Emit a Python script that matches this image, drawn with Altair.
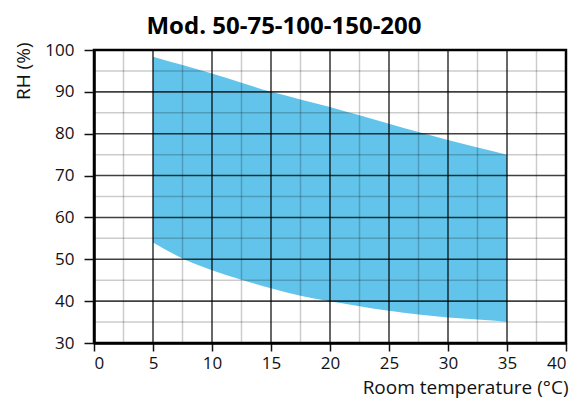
import altair as alt
import pandas as pd

# Data
temps = [5, 7.5, 10, 12.5, 15, 17.5, 20, 22.5, 25, 27.5, 30, 32.5, 35]
rh_upper = [98.4, 96.4, 94.4, 92.2, 90.0, 88.2, 86.4, 84.4, 82.4, 80.4, 78.5, 76.7, 75.0]
rh_lower = [54.0, 50.2, 47.4, 45.1, 43.1, 41.3, 40.0, 38.8, 37.7, 36.8, 36.1, 35.6, 35.1]

x_ticks = [0, 5, 10, 15, 20, 25, 30, 35, 40]
y_ticks = [30, 40, 50, 60, 70, 80, 90, 100]
x_major_grid = [5, 10, 15, 20, 25, 30, 35]
y_major_grid = [40, 50, 60, 70, 80, 90]
x_minor_grid = [2.5, 7.5, 12.5, 17.5, 22.5, 27.5, 32.5, 37.5]
y_minor_grid = [35, 45, 55, 65, 75, 85, 95]

FONT = "Open Sans"

df = pd.DataFrame({"t": temps, "hi": rh_upper, "lo": rh_lower})

xscale = alt.Scale(domain=[0, 40], nice=False, zero=False)
yscale = alt.Scale(domain=[30, 100], nice=False, zero=False)

xaxis = alt.Axis(
    values=x_ticks, grid=False, title="Room temperature (°C)",
    labelFont=FONT, labelFontSize=17, labelColor="#111", labelPadding=4,
    tickSize=8, tickColor="#111", tickWidth=1.5,
    domainColor="#000", domainWidth=2.5,
    titleFont=FONT, titleFontSize=19, titleFontWeight="normal", titleColor="#111",
    titleAnchor="end", titleAlign="right", titleBaseline="alphabetic",
    titleX=474, titleY=50,
)
yaxis = alt.Axis(
    values=y_ticks, grid=False, title="RH (%)",
    labelFont=FONT, labelFontSize=17, labelColor="#111", labelPadding=10,
    tickSize=10, tickColor="#111", tickWidth=1.5,
    domainColor="#000", domainWidth=2.5,
    titleFont=FONT, titleFontSize=19, titleFontWeight="normal", titleColor="#111",
    titleAngle=-90, titleAlign="right", titleBaseline="alphabetic",
    titleX=-65, titleY=-8,
)

area = alt.Chart(df).mark_area(color="#62C4EA", interpolate="monotone", opacity=1).encode(
    x=alt.X("t:Q", scale=xscale, axis=xaxis),
    y=alt.Y("hi:Q", scale=yscale, axis=yaxis),
    y2="lo:Q",
)

vminor = alt.Chart(pd.DataFrame({"v": x_minor_grid})).mark_rule(
    color="#000", opacity=0.2, strokeWidth=1.5).encode(x=alt.X("v:Q", scale=xscale))
hminor = alt.Chart(pd.DataFrame({"v": y_minor_grid})).mark_rule(
    color="#000", opacity=0.2, strokeWidth=1.5).encode(y=alt.Y("v:Q", scale=yscale))
vmajor = alt.Chart(pd.DataFrame({"v": x_major_grid})).mark_rule(
    color="#000", opacity=0.75, strokeWidth=1.6).encode(x=alt.X("v:Q", scale=xscale))
hmajor = alt.Chart(pd.DataFrame({"v": y_major_grid})).mark_rule(
    color="#000", opacity=0.75, strokeWidth=1.6).encode(y=alt.Y("v:Q", scale=yscale))

chart = alt.layer(area, vminor, hminor, vmajor, hmajor).properties(
    width=472, height=293,
    title=alt.TitleParams(
        "Mod. 50-75-100-150-200", font=FONT, fontSize=24, fontWeight="bold",
        color="#000", anchor="middle", dx=-46, offset=2,
    ),
    autosize=alt.AutoSizeParams(type="none"),
    padding={"left": 86, "top": 42, "right": 4, "bottom": 56},
).configure_view(stroke="#000", strokeWidth=2.5)

chart.save("out.html", embed_options={"renderer": "svg", "actions": False})
